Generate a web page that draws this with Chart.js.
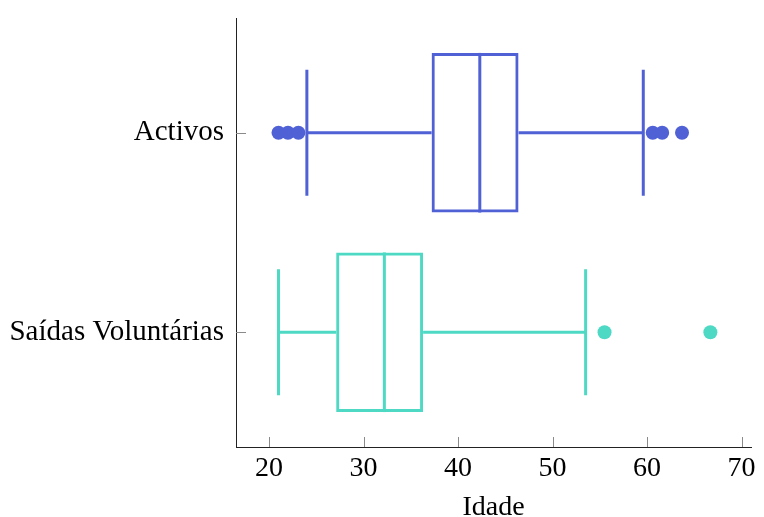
<!DOCTYPE html>
<html>
<head>
<meta charset="utf-8">
<script src="https://cdn.jsdelivr.net/npm/chart.js@4.4.1/dist/chart.umd.min.js"></script>
<style>
  html, body { margin: 0; padding: 0; background: #fff; }
  #wrap { width: 764px; height: 517px; }
</style>
</head>
<body>
<div id="wrap"><canvas id="boxChart"></canvas></div>
<script>
// dados do boxplot (idade)
const categories = ['Activos', 'Saídas Voluntárias'];
const whiskerLow = [24, 21];
const q1 = [37.2, 27.1];
const median = [42.3, 32.2];
const q3 = [46.4, 36.3];
const whiskerHigh = [59.6, 53.5];
const outliersActivos = [21, 22, 23.1, 60.6, 61.6, 63.7];
const outliersSaidas = [55.5, 66.7];
const xTicks = [20, 30, 40, 50, 60, 70];

const colors = ['rgb(80, 97, 214)', 'rgb(77, 217, 196)'];
const serif = "'Liberation Serif', 'DejaVu Serif', serif";

// whiskers antes das caixas, medianas depois
const boxPlugin = {
    id: 'boxExtras',
    beforeDatasetsDraw(chart) {
        const { ctx, scales: { x, y } } = chart;
        const bars = chart.getDatasetMeta(0).data;
        ctx.save();
        ctx.lineWidth = 3;
        categories.forEach((c, i) => {
            const yc = y.getPixelForValue(i + 1);
            const capHalf = bars[i].height * 0.395;
            ctx.strokeStyle = colors[i];
            ctx.beginPath();
            ctx.moveTo(x.getPixelForValue(whiskerLow[i]), yc);
            ctx.lineTo(x.getPixelForValue(q1[i]), yc);
            ctx.moveTo(x.getPixelForValue(q3[i]), yc);
            ctx.lineTo(x.getPixelForValue(whiskerHigh[i]), yc);
            [whiskerLow[i], whiskerHigh[i]].forEach(v => {
                const px = x.getPixelForValue(v);
                ctx.moveTo(px, yc - capHalf);
                ctx.lineTo(px, yc + capHalf);
            });
            ctx.stroke();
        });
        ctx.restore();
    },
    afterDatasetsDraw(chart) {
        const { ctx, scales: { x, y } } = chart;
        const bars = chart.getDatasetMeta(0).data;
        ctx.save();
        ctx.lineWidth = 3;
        categories.forEach((c, i) => {
            const yc = y.getPixelForValue(i + 1);
            const half = bars[i].height / 2;
            const px = x.getPixelForValue(median[i]);
            ctx.strokeStyle = colors[i];
            ctx.beginPath();
            ctx.moveTo(px, yc - half);
            ctx.lineTo(px, yc + half);
            ctx.stroke();
        });
        ctx.restore();
    },
    // ticks para dentro, estilo pgfplots
    afterDraw(chart) {
        const { ctx, chartArea, scales: { x, y } } = chart;
        ctx.save();
        ctx.strokeStyle = '#8a8a8a';
        ctx.lineWidth = 1;
        ctx.beginPath();
        x.ticks.forEach(t => {
            const px = Math.round(x.getPixelForValue(t.value)) + 0.5;
            ctx.moveTo(px, chartArea.bottom);
            ctx.lineTo(px, chartArea.bottom - 10);
        });
        y.ticks.forEach(t => {
            const py = Math.round(y.getPixelForValue(t.value)) + 0.5;
            ctx.moveTo(chartArea.left, py);
            ctx.lineTo(chartArea.left + 10, py);
        });
        ctx.stroke();
        ctx.restore();
    }
};

new Chart(document.getElementById('boxChart'), {
    data: {
        datasets: [
            {
                type: 'bar',
                indexAxis: 'y',
                data: categories.map((c, i) => ({ y: i + 1, x: [q1[i], q3[i]] })),
                borderColor: colors,
                backgroundColor: 'rgba(255,255,255,0)',
                borderWidth: 3,
                borderSkipped: false,
                barPercentage: 1,
                categoryPercentage: 0.8
            },
            {
                type: 'scatter',
                data: outliersActivos.map(v => ({ x: v, y: 1 })),
                backgroundColor: colors[0],
                borderWidth: 0,
                pointRadius: 7
            },
            {
                type: 'scatter',
                data: outliersSaidas.map(v => ({ x: v, y: 2 })),
                backgroundColor: colors[1],
                borderWidth: 0,
                pointRadius: 7
            }
        ]
    },
    options: {
        responsive: true,
        maintainAspectRatio: false,
        animation: false,
        layout: { padding: { left: 10, top: 18, right: 13, bottom: 0 } },
        plugins: { legend: { display: false }, tooltip: { enabled: false } },
        scales: {
            x: {
                type: 'linear',
                position: 'bottom',
                min: 16.5,
                max: 71,
                afterBuildTicks: s => { s.ticks = xTicks.map(v => ({ value: v })); },
                afterFit: s => { s.height = 70; },
                grid: { display: false, drawTicks: false },
                border: { display: true, color: '#222', width: 1 },
                ticks: { color: '#000', padding: 5, font: { family: serif, size: 28 } },
                title: {
                    display: true, text: 'Idade', color: '#000',
                    padding: { top: 0, bottom: -5 },
                    font: { family: serif, size: 28, lineHeight: 1 }
                }
            },
            y: {
                type: 'linear',
                position: 'left',
                reverse: true,
                offset: false,
                min: 0.425,
                max: 2.575,
                afterBuildTicks: s => { s.ticks = categories.map((c, i) => ({ value: i + 1 })); },
                afterFit: s => { s.width = 226; s.paddingTop = 0; s.paddingBottom = 0; },
                grid: { display: false, drawTicks: false },
                border: { display: true, color: '#222', width: 1 },
                ticks: {
                    color: '#000',
                    padding: 12,
                    font: { family: serif, size: 29 },
                    callback: v => categories[v - 1]
                }
            }
        }
    },
    plugins: [boxPlugin]
});
</script>
</body>
</html>
